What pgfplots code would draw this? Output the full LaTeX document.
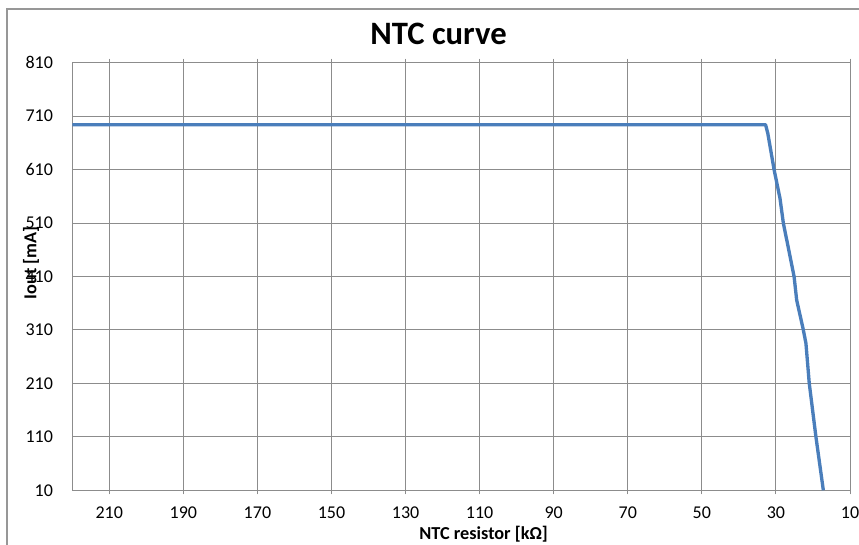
\documentclass[border=0pt]{standalone}
\usepackage{fontspec}
\setmainfont{Carlito}
\usepackage{pgfplots}
\pgfplotsset{compat=1.18}
\definecolor{linecol}{HTML}{4A7EBB}
\definecolor{gridcol}{HTML}{8C8C8C}
\begin{document}
\begin{tikzpicture}
\useasboundingbox (0pt,0pt) rectangle (644.25pt,408pt);
\draw[gridcol!90, line width=1.5pt] (5.6pt,-15pt) -- (5.6pt,401pt) -- (680pt,401pt);
\begin{axis}[
  at={(54.2pt,40.3pt)}, anchor=south west,
  scale only axis, width=583.3pt, height=320.7pt,
  x dir=reverse,
  xmin=10, xmax=220, ymin=10, ymax=810,
  xtick={10,30,...,210}, ytick={10,110,...,810},
  grid=major,
  grid style={gridcol, line width=0.75pt},
  axis line style={gridcol, line width=0.75pt},
  tick align=outside,
  major tick length=3pt,
  xtick style={gridcol, line width=0.75pt},
  ytick style={draw=none},
  /pgf/number format/assume math mode=true,
  ticklabel style={font=\fontsize{13.5}{15}\selectfont, text=black},
  xticklabel style={yshift=-6pt},
  yticklabel style={xshift=-8pt},
  title={\textbf{NTC curve}},
  title style={font=\fontsize{24.5}{28}\selectfont, at={(axis description cs:0.471,1.048)}, anchor=center},
  xlabel={\textbf{NTC resistor [kΩ]}},
  xlabel style={font=\fontsize{13.7}{15}\selectfont, at={(axis description cs:0.529,-0.103)}, anchor=center},
  ylabel={\textbf{Iout [mA]}},
  ylabel style={font=\fontsize{13.7}{15}\selectfont, at={(axis description cs:-0.053,0.532)}, anchor=center, rotate=0},
]
\addplot[linecol, line width=2.5pt, line join=round] coordinates {
(220,694) (32.8,694) (32.2,678) (30.5,610) (28.9,556) (28.0,510)
(25.1,410) (24.4,366) (22.6,310) (21.9,285) (21.0,210) (19.2,110) (17.6,30) (17.2,10)
};
\end{axis}
\end{tikzpicture}
\end{document}
